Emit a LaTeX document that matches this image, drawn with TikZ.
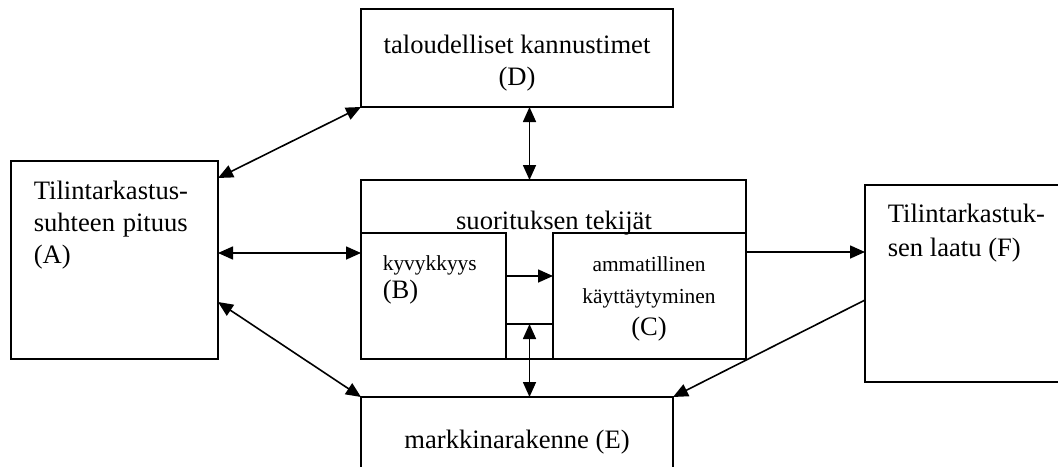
\documentclass[tikz,border=0pt]{standalone}
\usepackage{fontspec}
\setmainfont{Liberation Serif}
\usetikzlibrary{arrows.meta, calc}

\begin{document}
\begin{tikzpicture}[x=.5pt,y=-.5pt,>={Triangle[length=7.5pt,width=6.5pt]},
  line width=.8pt,
  box/.style={draw,rectangle,anchor=north west,inner sep=0pt,outer sep=0pt},
  txt/.style={inner sep=0pt,font=\fontsize{13.3}{16}\selectfont},
  small/.style={inner sep=0pt,font=\fontsize{10.7}{16}\selectfont}]
  \clip (0,0) rectangle (1058,466);
%%
  % Boxes
  \node[box,minimum width=103.5pt,minimum height=99pt] (A) at (11,161) {};
  \node[box,minimum width=156pt,minimum height=49pt] (D) at (361,9) {};
  \node[box,minimum width=192.5pt,minimum height=89.5pt] (S) at (361,180) {};
  \node[box,minimum width=72.5pt,minimum height=63pt] (B) at (361,233) {};
  \node[box,minimum width=96.5pt,minimum height=63pt] (C) at (553,233) {};
  \node[box,minimum width=156pt,minimum height=45pt] (E) at (361,397) {};
  \node[box,minimum width=102.5pt,minimum height=98.5pt] (F) at (865,185) {};
  % Texts (base = last line)
  \node[txt,anchor=base west,align=left] (tA) at (33,263)
    {Tilintarkastus-\\\makebox[77pt][s]{suhteen pituus}\\(A)};
  \node[txt,anchor=base,align=center] (tD) at (517,85)
    {taloudelliset kannustimet\\(D)};
  \node[txt,anchor=base] (tS) at (554,229) {suorituksen tekijät};
  \node[small,anchor=base west,align=left] (tB) at (382,298)
    {kyvykkyys\\[-2pt]{\fontsize{13.3}{16}\selectfont (B)}};
  \node[small,anchor=base,align=center] (tC) at (649,335)
    {ammatillinen\\käyttäytyminen\\{\fontsize{13.3}{16}\selectfont (C)}};
  \node[txt,anchor=base west,align=left] (tF) at (887,256)
    {Tilintarkastuk-\\[1pt]sen laatu (F)};
  \node[txt,anchor=base] (tE) at (517,448) {markkinarakenne (E)};
  % Connectors
  \coordinate (bc) at ($(B.east |- 0,324)!.5!(C.west |- 0,324)$);
  \draw[<->] ([yshift=-8.5pt]A.north east) -- (D.south west);
  \draw[<->] (D.south -| bc) -- (S.north -| bc);
  \draw[<->] (A.east |- 0,253) -- (B.west |- 0,253);
  \draw[<->] ([yshift=-70.5pt]A.north east) -- (E.north west);
  \draw[->] (B.east |- 0,276) -- (C.west |- 0,276);
  \draw (B.east |- bc) -- (C.west |- bc);
  \draw[<->] (bc) -- (E.north -| bc);
  \draw[->] (C.east |- 0,252) -- (F.west |- 0,252);
  \draw[->] (F.west |- 0,300) -- (E.north east);
%
\end{tikzpicture}
\end{document}
